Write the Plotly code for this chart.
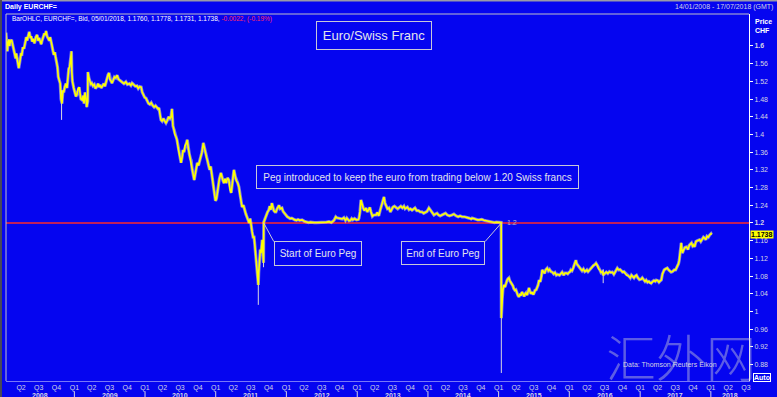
import plotly.graph_objects as go
import pandas as pd

BLUE = "#0505f0"
FONT = "Liberation Sans"

# ---- data: EURCHF daily close ----
y2008 = [("01-14",1.630),("01-17",1.612),("01-21",1.588),("01-24",1.606),("01-29",1.615),("02-01",1.600),
         ("02-06",1.611),("02-12",1.614),("02-18",1.602),("02-22",1.596),("02-28",1.578),("03-04",1.572),
         ("03-07",1.583),("03-12",1.570),("03-17",1.552),("03-20",1.550),("03-26",1.566),("04-01",1.584),
         ("04-04",1.578),("04-10",1.597),("04-16",1.594),("04-22",1.610),("04-28",1.620),("05-02",1.612),
         ("05-08",1.628),("05-13",1.632),("05-19",1.618),("05-23",1.622),("05-28",1.610),("06-03",1.616),
         ("06-09",1.606),("06-16",1.620),("06-23",1.625),("06-27",1.612),("07-03",1.618),("07-09",1.610),
         ("07-14",1.604),("07-18",1.612),("07-24",1.620),("07-30",1.628),("08-05",1.625),("08-08",1.634),
         ("08-13",1.622),("08-19",1.618),("08-25",1.612),("08-29",1.620),("09-03",1.605),("09-08",1.600),
         ("09-12",1.590),("09-17",1.580),("09-22",1.586),("09-26",1.575),("10-01",1.565),("10-06",1.552),
         ("10-10",1.530),("10-15",1.522),("10-20",1.515),("10-24",1.480),("10-29",1.470),("11-03",1.500),
         ("11-07",1.495),("11-13",1.508),("11-19",1.515),("11-24",1.505),("11-28",1.530),("12-03",1.548),
         ("12-08",1.553),("12-12",1.570),("12-17",1.588),("12-19",1.540),("12-22",1.520),("12-29",1.505)]
y2009 = [("01-05",1.495),("01-09",1.486),("01-14",1.490),("01-20",1.503),("01-26",1.507),("01-30",1.490),
         ("02-04",1.480),("02-10",1.478),("02-16",1.488),("02-20",1.470),("02-25",1.495),("03-02",1.482),
         ("03-06",1.462),("03-11",1.475),("03-12",1.541),("03-17",1.528),("03-23",1.520),("03-27",1.514),
         ("04-01",1.516),("04-07",1.510),("04-14",1.513),("04-20",1.504),("04-27",1.508),("05-04",1.515),
         ("05-08",1.507),("05-14",1.512),("05-20",1.505),("05-27",1.511),("06-02",1.515),("06-08",1.509),
         ("06-13",1.518),("06-18",1.525),("06-24",1.535),("06-29",1.539),("07-03",1.525),("07-08",1.522),
         ("07-14",1.516),("07-20",1.522),("07-27",1.530),("08-03",1.528),("08-10",1.534),("08-17",1.525),
         ("08-24",1.522),("08-31",1.519),("09-04",1.518),("09-14",1.515),("09-24",1.519),("10-02",1.513),
         ("10-12",1.515),("10-20",1.511),("10-26",1.516),("11-04",1.513),("11-12",1.509),("11-20",1.510),
         ("11-27",1.504),("12-04",1.508),("12-12",1.507),("12-17",1.496),("12-23",1.490),("12-30",1.484)]
y2010 = [("01-06",1.482),("01-12",1.476),("01-19",1.470),("01-26",1.468),("02-02",1.472),("02-09",1.466),
         ("02-17",1.462),("02-24",1.465),("03-02",1.462),("03-09",1.458),("03-14",1.460),("03-19",1.445),
         ("03-24",1.433),("03-30",1.430),("04-06",1.436),("04-13",1.430),("04-19",1.426),("04-26",1.432),
         ("05-03",1.440),("05-10",1.436),("05-15",1.440),("05-20",1.458),("05-25",1.420),("05-31",1.410),
         ("06-04",1.400),("06-10",1.395),("06-15",1.388),("06-21",1.370),("06-28",1.350),("07-06",1.336),
         ("07-12",1.350),("07-16",1.365),("07-21",1.360),("07-27",1.375),("08-02",1.380),("08-07",1.388),
         ("08-12",1.370),("08-18",1.355),("08-24",1.345),("08-27",1.342),("09-02",1.320),("09-08",1.305),
         ("09-12",1.297),("09-17",1.310),("09-22",1.325),("09-28",1.336),("10-04",1.330),("10-10",1.340),
         ("10-16",1.349),("10-22",1.360),("10-29",1.381),("11-03",1.370),("11-09",1.355),("11-15",1.348),
         ("11-19",1.342),("11-25",1.330),("12-01",1.320),("12-06",1.328),("12-10",1.313),("12-16",1.300),
         ("12-21",1.285),("12-27",1.262),("12-31",1.250)]
y2011 = [("01-05",1.255),("01-10",1.270),("01-15",1.290),("01-20",1.300),("01-28",1.313),("02-03",1.300),
         ("02-08",1.295),("02-13",1.290),("02-18",1.300),("02-24",1.290),("03-03",1.302),("03-10",1.297),
         ("03-16",1.275),("03-22",1.268),("03-28",1.290),("04-01",1.305),("04-05",1.320),("04-12",1.305),
         ("04-18",1.295),("04-25",1.290),("05-01",1.281),("05-06",1.265),("05-12",1.250),("05-17",1.236),
         ("05-24",1.240),("05-31",1.225),("06-06",1.220),("06-11",1.214),("06-17",1.205),("06-23",1.200),
         ("06-28",1.210),("07-02",1.191),("07-08",1.180),("07-13",1.168),("07-18",1.168),("07-22",1.150),
         ("07-28",1.123),("08-02",1.100),("08-05",1.095),("08-09",1.060),("08-11",1.087),("08-15",1.110),
         ("08-19",1.140),("08-23",1.132),("08-29",1.162),("09-01",1.140),("09-05",1.110),("09-06",1.202),
         ("09-12",1.210),("09-19",1.215),("09-26",1.225),("10-02",1.229),("10-07",1.238),("10-13",1.230),
         ("10-18",1.245),("10-24",1.235),("10-28",1.228),("11-03",1.225),("11-08",1.225),("11-14",1.232),
         ("11-19",1.236),("11-24",1.240),("11-30",1.232),("12-06",1.235),("12-09",1.234),("12-15",1.226),
         ("12-21",1.222),("12-30",1.218)]
y2012 = [("01-06",1.214),("01-13",1.212),("01-20",1.210),("01-29",1.211),("02-06",1.208),("02-14",1.207),
         ("02-22",1.206),("03-01",1.208),("03-10",1.206),("03-22",1.207),("04-02",1.204),("04-12",1.202),
         ("04-24",1.201),("05-04",1.202),("05-14",1.201),("05-25",1.201),("06-05",1.201),("06-18",1.201),
         ("07-01",1.201),("07-15",1.201),("07-26",1.202),("08-08",1.203),("08-20",1.201),("09-03",1.206),
         ("09-07",1.210),("09-12",1.214),("09-17",1.212),("09-24",1.211),("10-03",1.210),("10-15",1.209),
         ("10-24",1.212),("11-01",1.206),("11-08",1.211),("11-19",1.205),("11-27",1.206),("12-03",1.210),
         ("12-09",1.207),("12-18",1.210),("12-28",1.207)]
y2013 = [("01-07",1.208),("01-10",1.211),("01-15",1.225),("01-20",1.252),("01-25",1.240),("01-31",1.235),
         ("02-07",1.228),("02-15",1.234),("02-22",1.225),("03-01",1.232),("03-07",1.235),("03-13",1.225),
         ("03-20",1.215),("03-27",1.218),("04-03",1.217),("04-08",1.218),("04-15",1.224),("04-22",1.216),
         ("04-29",1.228),("05-04",1.236),("05-10",1.245),("05-15",1.253),("05-19",1.259),("05-24",1.245),
         ("05-30",1.240),("06-06",1.232),("06-14",1.234),("06-21",1.225),("06-27",1.230),("07-04",1.236),
         ("07-12",1.238),("07-20",1.236),("07-29",1.232),("08-06",1.235),("08-14",1.238),("08-22",1.234),
         ("08-30",1.238),("09-05",1.232),("09-10",1.234),("09-17",1.236),("09-25",1.230),("10-03",1.232),
         ("10-11",1.229),("10-18",1.232),("10-26",1.234),("11-04",1.228),("11-13",1.228),("11-22",1.225),
         ("12-01",1.225),("12-10",1.222),("12-18",1.224),("12-27",1.226)]
y2014 = [("01-06",1.234),("01-13",1.230),("01-20",1.226),("01-27",1.222),("02-01",1.218),("02-08",1.220),
         ("02-17",1.222),("02-25",1.218),("03-05",1.216),("03-14",1.218),("03-24",1.220),("04-02",1.222),
         ("04-11",1.218),("04-22",1.216),("05-05",1.218),("05-15",1.220),("05-27",1.216),("06-06",1.214),
         ("06-16",1.216),("06-26",1.214),("07-08",1.214),("07-20",1.213),("08-01",1.211),("08-12",1.209),
         ("08-17",1.211),("08-25",1.210),("09-04",1.208),("09-15",1.207),("09-23",1.207),("10-06",1.208),
         ("10-17",1.206),("10-29",1.205),("11-10",1.203),("11-21",1.202),("12-02",1.202),("12-10",1.201),
         ("12-20",1.202),("12-30",1.202)]
y2015 = [("01-08",1.201),("01-14",1.201),("01-15",0.985),("01-16",1.005),("01-20",1.030),("01-23",1.049),
         ("01-28",1.060),("02-03",1.055),("02-08",1.064),("02-13",1.070),("02-18",1.074),("02-23",1.076),
         ("02-27",1.070),("03-04",1.066),("03-10",1.064),("03-16",1.058),("03-20",1.052),("03-26",1.048),
         ("03-31",1.049),("04-06",1.040),("04-11",1.036),("04-16",1.033),("04-22",1.040),("04-27",1.036),
         ("05-01",1.044),("05-07",1.040),("05-13",1.034),("05-18",1.040),("05-22",1.042),("05-28",1.037),
         ("06-02",1.046),("06-07",1.053),("06-12",1.045),("06-17",1.040),("06-23",1.044),("06-29",1.038),
         ("07-03",1.042),("07-08",1.048),("07-14",1.049),("07-20",1.055),("07-24",1.060),("07-29",1.071),
         ("08-04",1.067),("08-10",1.080),("08-14",1.094),("08-20",1.090),("08-26",1.086),("09-01",1.094),
         ("09-05",1.098),("09-09",1.098),("09-15",1.092),("09-21",1.095),("09-28",1.090),("10-05",1.089),
         ("10-12",1.085),("10-19",1.088),("10-26",1.082),("11-02",1.084),("11-11",1.082),("11-18",1.085),
         ("11-25",1.089),("12-03",1.082),("12-10",1.087),("12-17",1.087),("12-24",1.085),("12-30",1.088)]
y2016 = [("01-05",1.090),("01-09",1.094),("01-15",1.092),("01-21",1.098),("01-27",1.104),("02-01",1.110),
         ("02-04",1.116),("02-08",1.108),("02-15",1.104),("02-22",1.100),("03-01",1.098),("03-07",1.092),
         ("03-14",1.096),("03-21",1.090),("03-28",1.092),("04-01",1.094),("04-07",1.090),("04-14",1.094),
         ("04-21",1.098),("04-28",1.100),("05-05",1.104),("05-12",1.106),("05-18",1.109),("05-25",1.104),
         ("06-01",1.096),("06-07",1.094),("06-13",1.088),("06-20",1.090),("06-24",1.082),("06-29",1.085),
         ("07-05",1.087),("07-10",1.089),("07-18",1.086),("07-26",1.090),("08-03",1.088),("08-10",1.089),
         ("08-18",1.084),("08-25",1.090),("09-01",1.094),("09-05",1.098),("09-12",1.094),("09-19",1.095),
         ("09-26",1.092),("10-02",1.089),("10-09",1.090),("10-16",1.086),("10-23",1.082),("10-28",1.082),
         ("11-04",1.080),("11-11",1.076),("11-17",1.082),("11-23",1.078),("11-30",1.076),("12-06",1.080),
         ("12-13",1.082),("12-20",1.076),("12-28",1.072)]
y2017 = [("01-06",1.073),("01-12",1.076),("01-19",1.072),("01-26",1.068),("02-01",1.071),("02-08",1.066),
         ("02-15",1.068),("02-22",1.064),("02-27",1.064),("03-06",1.068),("03-13",1.070),("03-20",1.068),
         ("03-25",1.071),("04-01",1.070),("04-08",1.066),("04-14",1.069),("04-20",1.071),("04-26",1.085),
         ("05-01",1.090),("05-05",1.094),("05-12",1.096),("05-21",1.098),("05-28",1.094),("06-04",1.092),
         ("06-10",1.089),("06-17",1.090),("06-26",1.094),("07-03",1.094),("07-12",1.101),("07-18",1.108),
         ("07-22",1.116),("07-26",1.128),("08-01",1.155),("08-04",1.142),("08-07",1.132),("08-14",1.140),
         ("08-21",1.145),("08-28",1.146),("09-05",1.140),("09-12",1.150),("09-18",1.152),("09-23",1.155),
         ("09-29",1.148),("10-04",1.150),("10-09",1.146),("10-16",1.158),("10-23",1.160),("10-30",1.162),
         ("11-04",1.162),("11-10",1.158),("11-17",1.165),("11-24",1.168),("11-30",1.166),("12-06",1.162),
         ("12-12",1.170),("12-19",1.168),("12-26",1.173)]
y2018 = [("01-02",1.176),("01-05",1.1738)]

yearly = [(2008, y2008), (2009, y2009), (2010, y2010), (2011, y2011), (2012, y2012), (2013, y2013),
          (2014, y2014), (2015, y2015), (2016, y2016), (2017, y2017), (2018, y2018)]

# daily high/low bars shown as white spikes
spike_dates = ["2008-10-27", "2011-08-09", "2011-09-05", "2015-01-15", "2016-06-24"]
spike_low = [1.433, 1.015, 1.100, 0.861, 1.064]
spike_high = [1.500, 1.095, 1.200, 1.201, 1.095]

quarter_labels = ["Q1", "Q2", "Q3", "Q4"]
years = list(range(2008, 2019))
y_ticks = [0.88, 0.92, 0.96, 1.0, 1.04, 1.08, 1.12, 1.16, 1.2, 1.24, 1.28, 1.32, 1.36, 1.4, 1.44, 1.48, 1.52, 1.56, 1.6]
y_ticktext = ["0.88", "0.92", "0.96", "1", "1.04", "1.08", "1.12", "1.16", "<b>1.2</b>", "1.24", "1.28", "1.32",
              "1.36", "1.4", "1.44", "1.48", "1.52", "1.56", "<b>1.6</b>"]

x_start, x_end = "2008-01-14", "2018-07-17"
y_lo, y_hi = 0.8429, 1.6723
peg_start, peg_end, peg_level = "2011-09-06", "2015-01-15", 1.2
last_close = 1.1738

# ---- build series ----
dates, closes = [], []
for yr, rows in yearly:
    for md, v in rows:
        dates.append(f"{yr}-{md}")
        closes.append(v)

sx, sy = [], []
for d, lo, hi in zip(spike_dates, spike_low, spike_high):
    sx += [d, d, None]
    sy += [lo, hi, None]

tickvals, ticktext = [], []
for yr in years:
    for qi, m in enumerate([1, 4, 7, 10]):
        d = f"{yr}-{m:02d}-01"
        if x_start <= d <= x_end:
            tickvals.append(d)
            ticktext.append(quarter_labels[qi])

fig = go.Figure()
fig.add_trace(go.Scatter(x=sx, y=sy, mode="lines", line=dict(color="#d8d8e0", width=1),
                         hoverinfo="skip", showlegend=False))
# light halo of the high/low range around the closing line
fig.add_trace(go.Scatter(x=dates, y=closes, mode="lines", line=dict(color="rgba(215,215,225,0.55)", width=3.2),
                         hoverinfo="skip", showlegend=False))
fig.add_trace(go.Scatter(x=dates, y=closes, mode="lines", line=dict(color="#ffff00", width=1.6),
                         showlegend=False))

LIGHT = "#d4d4e4"
ann = []
# header
ann.append(dict(text="<b>Daily EURCHF=</b>", xref="paper", yref="paper", x=-0.004, y=1.019,
                xanchor="left", yanchor="middle", showarrow=False, font=dict(size=7, color="white", family=FONT)))
ann.append(dict(text="14/01/2008 - 17/07/2018 (GMT)", xref="paper", yref="paper", x=1.035, y=1.019,
                xanchor="right", yanchor="middle", showarrow=False, font=dict(size=7, color=LIGHT, family=FONT)))
ann.append(dict(text="BarOHLC, EURCHF=, Bid, 05/01/2018, 1.1760, 1.1778, 1.1731, 1.1738, "
                     "<span style='color:#ff2868'>-0.0022, (-0.19%)</span>",
                xref="paper", yref="paper", x=0.0054, y=0.9864, xanchor="left", yanchor="middle",
                showarrow=False, font=dict(size=6.5, color="white", family=FONT)))
# title box
ann.append(dict(text="Euro/Swiss Franc", xref="paper", yref="paper", x=0.4953, y=0.9414,
                xanchor="center", yanchor="middle", showarrow=False, width=112, height=25,
                bordercolor="#c8c8d8", borderwidth=1, borderpad=1,
                font=dict(size=13, color="#e4e4ec", family=FONT)))
ann.append(dict(text="Peg introduced to keep the euro from trading below 1.20 Swiss francs",
                xref="paper", yref="paper", x=0.5538, y=0.5565, xanchor="center", yanchor="middle",
                showarrow=False, width=319, height=20, bordercolor="#c8c8d8", borderwidth=1, borderpad=1,
                font=dict(size=10, color="#e4e4ec", family=FONT)))
ann.append(dict(text="Start of Euro Peg", xref="paper", yref="paper", x=0.4199, y=0.3474,
                xanchor="center", yanchor="middle", showarrow=False, width=84, height=21,
                bordercolor="#c8c8d8", borderwidth=1, borderpad=1,
                font=dict(size=10, color="#e4e4ec", family=FONT)))
ann.append(dict(text="End of Euro Peg", xref="paper", yref="paper", x=0.5882, y=0.3488,
                xanchor="center", yanchor="middle", showarrow=False, width=80, height=20,
                bordercolor="#c8c8d8", borderwidth=1, borderpad=1,
                font=dict(size=10, color="#e4e4ec", family=FONT)))
ann.append(dict(text="1.2", xref="x", yref="y", x=peg_end, y=peg_level, xanchor="left", yanchor="middle",
                xshift=4, showarrow=False, font=dict(size=7, color="#b8b8c8", family=FONT)))
# right side labels
ann.append(dict(text="<b>Price</b><br><b>CHF</b>", xref="paper", yref="paper", x=1.0054, y=0.995,
                xanchor="left", yanchor="top", align="left", showarrow=False,
                font=dict(size=7, color="white", family=FONT)))
ann.append(dict(text="<b>%.4f</b>" % last_close, xref="paper", yref="y", x=1.0015, y=last_close,
                xanchor="left", yanchor="middle", showarrow=False, bgcolor="#ffff00", borderpad=0,
                font=dict(size=7, color="black", family=FONT)))
ann.append(dict(text="<b>Auto</b>", xref="paper", yref="paper", x=1.0175, y=0.0095,
                xanchor="center", yanchor="middle", showarrow=False, bordercolor="white", borderwidth=1,
                borderpad=0, font=dict(size=7, color="white", family=FONT)))
# watermark + source
ann.append(dict(text="汇外网", xref="paper", yref="paper", x=0.9085, y=0.07, xanchor="center",
                yanchor="middle", showarrow=False,
                font=dict(size=50, color="rgba(200,200,215,0.45)", family="Noto Sans CJK SC", weight=300)))
ann.append(dict(text="Data: Thomson Reuters Eikon", xref="paper", yref="paper", x=0.8937, y=0.0436,
                xanchor="center", yanchor="middle", showarrow=False,
                font=dict(size=7, color=LIGHT, family=FONT)))
# year labels centered on visible portion of each year
xs, xe = pd.Timestamp(x_start), pd.Timestamp(x_end)
for yr in years:
    a = max(pd.Timestamp(f"{yr}-01-01"), xs)
    b = min(pd.Timestamp(f"{yr}-12-31"), xe)
    mid = a + (b - a) / 2
    ann.append(dict(text=f"<b>{yr}</b>", xref="x", yref="paper", x=mid.strftime("%Y-%m-%d"), y=-0.039,
                    xanchor="center", yanchor="middle", showarrow=False,
                    font=dict(size=7, color=LIGHT, family=FONT)))

shapes = []
shapes.append(dict(type="line", xref="paper", yref="y", x0=0, x1=1, y0=peg_level, y1=peg_level,
                   line=dict(color="#ff2a2a", width=1.5), layer="below"))
# leader lines from peg dates to boxes
shapes.append(dict(type="line", xref="x", yref="y", x0=peg_start, y0=peg_level, x1="2011-10-28", y1=1.158,
                   line=dict(color="#c8c8d8", width=1)))
shapes.append(dict(type="line", xref="x", yref="y", x0=peg_end, y0=peg_level, x1="2014-10-23", y1=1.158,
                   line=dict(color="#c8c8d8", width=1)))
# year separators
for yr in years[1:]:
    shapes.append(dict(type="line", xref="x", yref="paper", x0=f"{yr}-01-01", x1=f"{yr}-01-01",
                       y0=-0.028, y1=-0.05, line=dict(color=LIGHT, width=1)))
# frame lines
shapes.append(dict(type="line", xref="paper", yref="paper", x0=0, x1=1, y0=1, y1=1,
                   line=dict(color="#c0c0c8", width=1)))
shapes.append(dict(type="line", xref="paper", yref="paper", x0=0, x1=0, y0=0, y1=1,
                   line=dict(color="#c0c0c8", width=1)))
shapes.append(dict(type="line", xref="paper", yref="paper", x0=-0.0081, x1=1.04, y0=1.037, y1=1.037,
                   line=dict(color="#9a9aa8", width=2)))
shapes.append(dict(type="rect", xref="paper", yref="paper", x0=-0.0081, x1=-0.0054, y0=-0.05, y1=1.04,
                   fillcolor="#4a4a58", line=dict(width=0)))

fig.update_layout(
    width=777, height=397, autosize=False,
    margin=dict(l=6, r=28, t=14, b=16, pad=0),
    paper_bgcolor=BLUE, plot_bgcolor=BLUE,
    showlegend=False, annotations=ann, shapes=shapes,
    xaxis=dict(type="date", range=[x_start, x_end], tickmode="array", tickvals=tickvals, ticktext=ticktext,
               tickangle=0, showgrid=False, zeroline=False, showline=True, linecolor="#7878f8", linewidth=1,
               ticks="", tickfont=dict(size=7, color=LIGHT, family=FONT)),
    yaxis=dict(side="right", range=[y_lo, y_hi], tickmode="array", tickvals=y_ticks, ticktext=y_ticktext,
               showgrid=False, zeroline=False, showline=True, linecolor="white", linewidth=1,
               ticks="outside", ticklen=3, tickcolor="white",
               tickfont=dict(size=7, color=LIGHT, family=FONT)),
)

fig.write_html("out.html", config={"displayModeBar": False},
               post_script="document.body.style.margin='0';document.body.style.overflow='hidden';")
